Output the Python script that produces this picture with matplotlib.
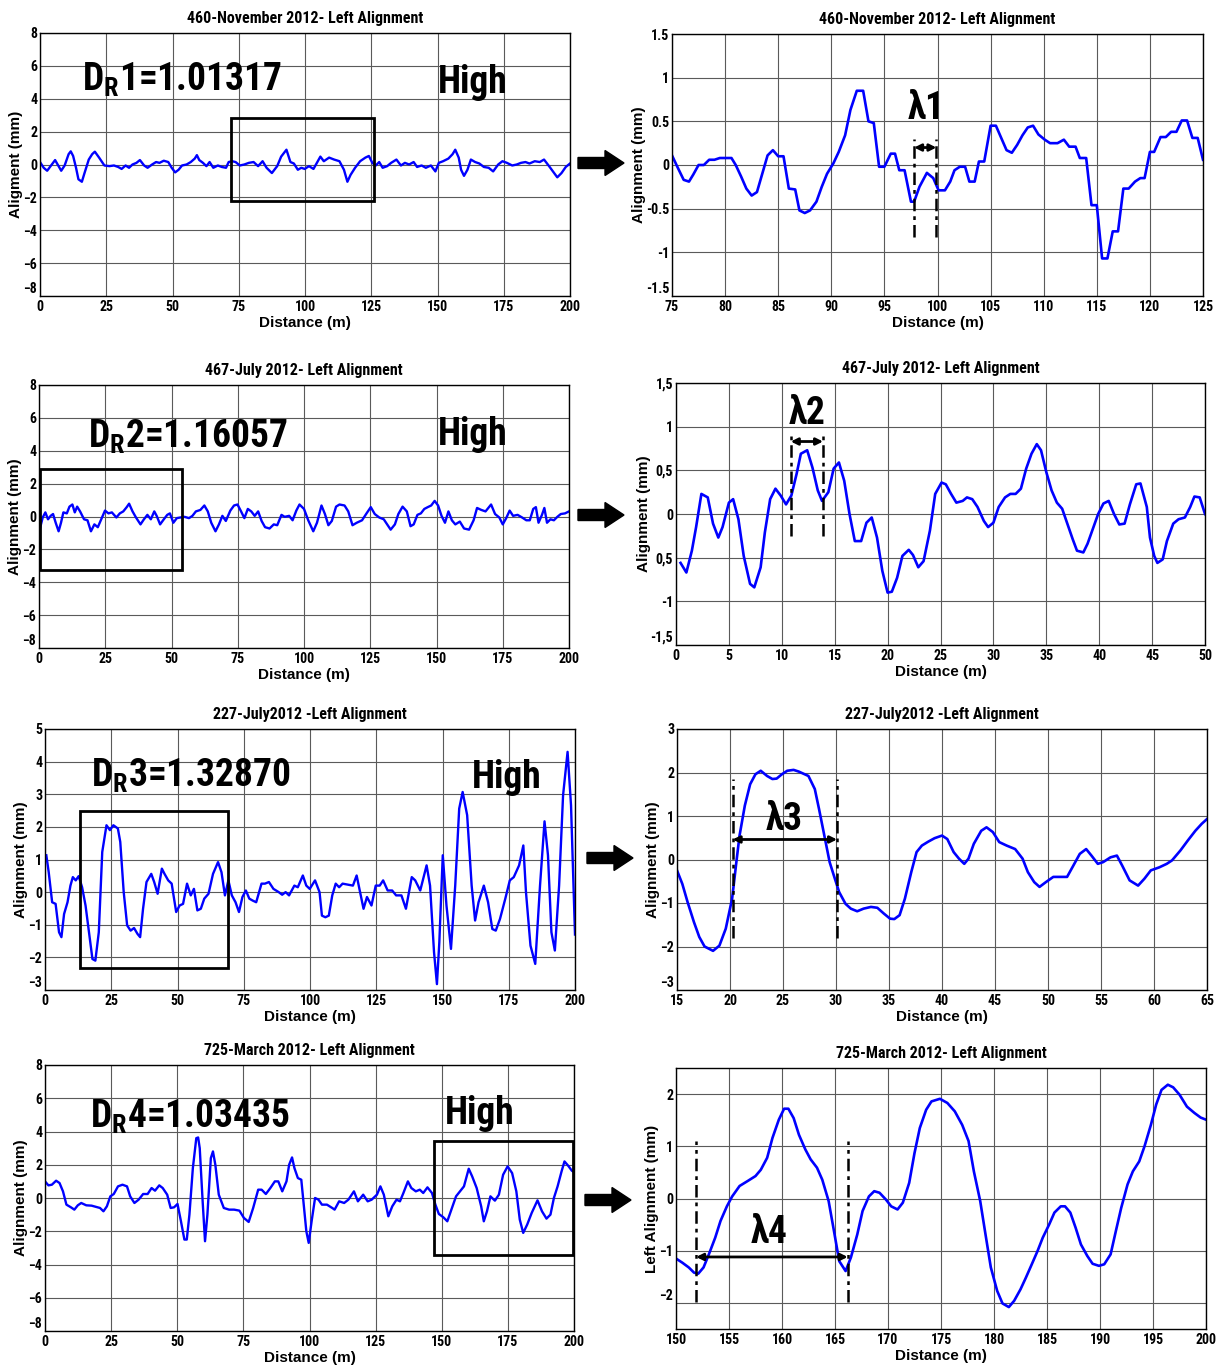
import matplotlib
matplotlib.use('Agg')
import matplotlib.pyplot as plt
from matplotlib import font_manager
from matplotlib.patches import Rectangle, FancyArrow

# fonts: a condensed face if one is installed, otherwise Liberation Sans
names = {f.name for f in font_manager.fontManager.ttflist}
narrow = 'Liberation Sans'
for cand in ['Liberation Sans Narrow', 'Roboto Condensed', 'Open Sans Condensed', 'Noto Sans Condensed']:
    if cand in names:
        narrow = cand
        break
condensed = narrow != 'Liberation Sans'
plt.rcParams['font.family'] = [narrow, 'DejaVu Sans']
plt.rcParams['mathtext.fontset'] = 'custom'
plt.rcParams['mathtext.rm'] = narrow + ':bold'
plt.rcParams['mathtext.bf'] = narrow + ':bold'

##########################################################################
### data: (distance m, alignment mm)
##########################################################################

left_460 = [(0, 0.15), (1.4, -0.2), (2.7, -0.38), (4, -0.1), (5.7, 0.27), (7, -0.1), (8, -0.38),
    (9.3, -0.06), (10.8, 0.63), (11.6, 0.8), (12.5, 0.52), (13.6, -0.2), (14.5, -0.9), (15.8, -1.05),
    (16.8, -0.52), (18.4, 0.3), (19.7, 0.63), (20.7, 0.78), (22.3, 0.42), (24.3, -0.06), (26.2, -0.1),
    (27.9, -0.06), (29.5, -0.15), (30.8, -0.27), (32.3, -0.06), (33.6, -0.2), (34.9, 0), (36.4, 0.1),
    (37.7, 0.27), (39.3, -0.06), (40.6, -0.2), (42.3, 0), (43.8, 0.15), (45.1, 0.1), (46.7, 0.23),
    (48.4, 0.15), (49.7, -0.2), (51, -0.48), (52.3, -0.32), (53.6, -0.06), (55.3, 0), (56.9, 0.15),
    (58.4, 0.36), (59.2, 0.57), (60.1, 0.27), (61.5, 0.1), (62.8, -0.1), (64, 0.15), (65.4, -0.2),
    (67.1, -0.06), (68.6, -0.15), (70.2, -0.2), (71.2, 0.15), (72.5, 0.2), (73.8, 0.15), (75.4, -0.06),
    (77.1, 0), (78.8, 0.1), (80.6, 0.15), (82.3, -0.1), (84, 0.2), (85.5, -0.2), (87.5, -0.52),
    (89.5, -0.1), (91, 0.48), (93, 0.9), (94.5, 0.15), (95.8, 0.06), (97.3, -0.32), (98.6, -0.2),
    (99.9, -0.27), (101.5, -0.1), (103.2, -0.27), (104.5, 0.1), (105.8, 0.48), (107.1, 0.2),
    (109.1, 0.42), (111, 0.3), (113, 0.2), (114.7, -0.32), (116, -1.05), (117.2, -0.63), (118.9, -0.2),
    (120.8, 0.2), (122.8, 0.42), (124.1, 0.52), (125.4, 0.1), (126.7, -0.06), (128, 0.15), (129.3, -0.2),
    (131, -0.1), (132.5, 0.1), (134.5, 0.3), (136.2, -0.06), (137.7, 0.1), (139.3, 0), (141, 0.15),
    (142.3, -0.15), (144, -0.06), (145.6, -0.2), (147.5, -0.06), (149.2, -0.42), (150.5, 0.1),
    (152.1, 0.2), (154.1, 0.36), (155.7, 0.63), (156.7, 0.9), (158, 0.42), (158.9, -0.32), (160, -0.69),
    (161.3, -0.32), (162.6, 0.3), (164.2, 0.15), (165.8, 0.06), (167.5, -0.15), (169.3, -0.2),
    (171, -0.42), (172.9, 0), (174.5, 0.2), (176.2, 0.1), (178.2, -0.06), (179.9, 0), (181.5, 0.1),
    (183.2, 0.15), (184.7, 0.06), (186.7, 0.2), (188.6, 0.15), (190.2, 0.3), (192.1, -0.1),
    (194, -0.52), (195.2, -0.78), (196.8, -0.52), (198.4, -0.15), (200, 0.06)]

zoom_460 = [(75, 0.11), (75.5, -0.02), (76.1, -0.17), (76.6, -0.19), (77, -0.11), (77.5, 0), (78, 0),
    (78.5, 0.06), (79, 0.06), (79.5, 0.08), (80.6, 0.08), (81, 0), (81.5, -0.13), (82, -0.27),
    (82.5, -0.35), (83, -0.31), (83.5, -0.1), (84, 0.11), (84.5, 0.17), (85, 0.1), (85.5, 0.1),
    (86, -0.27), (86.6, -0.28), (87, -0.52), (87.5, -0.55), (88, -0.52), (88.6, -0.42), (89.1, -0.25),
    (89.6, -0.1), (90.2, 0.02), (90.7, 0.15), (91.3, 0.34), (91.8, 0.63), (92.4, 0.85), (93, 0.85),
    (93.5, 0.5), (94, 0.48), (94.5, -0.02), (95, -0.02), (95.6, 0.13), (96, 0.13), (96.4, -0.06),
    (96.9, -0.06), (97.5, -0.42), (97.8, -0.42), (98.3, -0.25), (99, -0.09), (99.6, -0.15),
    (100.1, -0.29), (100.7, -0.29), (101.2, -0.19), (101.6, -0.06), (102.1, -0.02), (102.6, -0.02),
    (103, -0.19), (103.5, -0.19), (103.9, 0.04), (104.4, 0.04), (105, 0.45), (105.5, 0.45),
    (106, 0.31), (106.5, 0.17), (107, 0.14), (107.5, 0.23), (108, 0.34), (108.5, 0.43), (109, 0.45),
    (109.5, 0.35), (110.1, 0.29), (110.6, 0.25), (111.3, 0.25), (111.9, 0.29), (112.4, 0.21),
    (113, 0.21), (113.4, 0.08), (114, 0.08), (114.5, -0.46), (115, -0.46), (115.5, -1.07),
    (116, -1.07), (116.5, -0.76), (117, -0.76), (117.5, -0.27), (118, -0.27), (118.6, -0.19),
    (119.1, -0.15), (119.5, -0.15), (120, 0.15), (120.4, 0.15), (121, 0.32), (121.5, 0.32),
    (122, 0.38), (122.5, 0.38), (123, 0.51), (123.5, 0.51), (124, 0.31), (124.5, 0.31), (125, 0.06)]

left_467 = [(0.4, -0.7), (1.4, -0.06), (2.4, 0.25), (3.4, -0.17), (4.4, 0.04), (5.3, 0.15), (6.3, -0.38),
    (7.4, -0.9), (8.3, -0.38), (9.2, 0.25), (10.5, 0.19), (11.5, 0.6), (12.6, 0.73), (13.5, 0.25),
    (14.4, 0.6), (15.5, 0.31), (17, -0.17), (18.3, -0.23), (19.6, -0.9), (20.9, -0.48), (22.2, -0.65),
    (23.5, -0.17), (24.9, 0.36), (26.2, 0.19), (27.5, 0.25), (29.2, -0.06), (30.5, 0.19), (31.8, 0.31),
    (33.1, 0.57), (34, 0.78), (35.3, 0.31), (36.6, -0.06), (38.3, -0.48), (39.6, -0.17), (40.9, 0.1),
    (42.2, -0.17), (43.5, 0.31), (44.4, 0.04), (45.7, -0.48), (47.1, -0.17), (48.4, 0.1), (49.4, 0.19),
    (50.7, -0.38), (52, -0.1), (53.3, -0.06), (54.9, -0.02), (56.6, -0.1), (57.9, 0.04), (59.2, 0.31),
    (60.9, 0.4), (62.4, 0.67), (63.7, 0.31), (65, -0.38), (66.6, -0.9), (67.9, -0.48), (69.2, 0.04),
    (70.5, -0.27), (72.2, 0.36), (73.6, 0.67), (74.9, 0.73), (76.1, 0.36), (77.5, -0.1), (78.8, 0.46),
    (80.1, 0.31), (81.4, 0.04), (82.7, 0.31), (84, -0.27), (85.3, -0.65), (87, -0.73), (88.6, -0.48),
    (89.9, -0.53), (91.5, 0.1), (92.7, -0.02), (94.4, 0.04), (95.7, -0.23), (97.1, 0.36), (98.3, 0.73),
    (100, 0.46), (101.6, -0.23), (103.5, -0.9), (104.9, -0.38), (106.6, 0.67), (107.9, 0.15),
    (109.2, -0.53), (110.5, -0.27), (112.1, 0.6), (113.4, 0.73), (115.3, 0.67), (116.7, 0.31),
    (118.3, -0.53), (119.9, -0.38), (121.9, -0.23), (123.6, 0.19), (125.2, 0.57), (126.7, 0.15),
    (128.4, -0.06), (130.1, -0.17), (131.4, -0.48), (132.7, -0.8), (134.3, -0.48), (135.6, 0.15),
    (137.2, 0.6), (138.8, 0.31), (140.2, -0.59), (141.4, -0.48), (142.8, 0.1), (144.1, 0.19),
    (145.4, 0.46), (146.7, 0.57), (148, 0.67), (149.3, 0.95), (150.6, 0.67), (151.9, 0.04),
    (153.2, -0.38), (154.5, 0.31), (155.8, -0.23), (157.1, -0.48), (158.8, -0.31), (160.4, -0.73),
    (162.3, -0.8), (164, -0.23), (165.3, 0.52), (166.9, 0.4), (168.5, 0.31), (170.6, 0.73),
    (172.1, 0.15), (173.7, -0.06), (175, -0.48), (176.3, -0.1), (177.6, 0.36), (178.9, 0.04),
    (180.6, 0.1), (182.3, -0.06), (183.9, -0.23), (185.2, -0.23), (186.5, 0.46), (187.5, 0.57),
    (188.5, -0.38), (189.8, 0.1), (190.7, 0.52), (191.7, -0.38), (193, -0.17), (194.3, -0.23),
    (195.6, -0.02), (196.9, 0.15), (198.5, 0.19), (200, 0.31)]

zoom_467 = [(0.43, -0.56), (0.98, -0.67), (1.5, -0.42), (1.9, -0.15), (2.4, 0.23), (3, 0.19), (3.5, -0.11),
    (4, -0.27), (4.4, -0.15), (5, 0.13), (5.4, 0.17), (5.9, -0.06), (6.4, -0.48), (7, -0.8), (7.4, -0.84),
    (8, -0.61), (8.4, -0.21), (8.9, 0.17), (9.4, 0.29), (9.9, 0.21), (10.4, 0.11), (10.9, 0.21),
    (11.4, 0.46), (11.8, 0.69), (12.4, 0.73), (12.9, 0.53), (13.4, 0.27), (13.8, 0.15), (14.4, 0.25),
    (14.9, 0.52), (15.4, 0.59), (15.9, 0.38), (16.4, 0), (16.9, -0.31), (17.5, -0.31), (18, -0.1),
    (18.5, -0.04), (19, -0.27), (19.5, -0.65), (20, -0.9), (20.4, -0.89), (20.9, -0.73), (21.4, -0.48),
    (22, -0.41), (22.4, -0.47), (22.9, -0.61), (23.4, -0.54), (24, -0.19), (24.5, 0.23), (25.1, 0.36),
    (25.5, 0.34), (26, 0.23), (26.5, 0.13), (27.1, 0.15), (27.5, 0.19), (28, 0.17), (28.5, 0.08),
    (29.1, -0.08), (29.5, -0.15), (30, -0.1), (30.5, 0.08), (31.1, 0.19), (31.6, 0.23), (32.1, 0.23),
    (32.6, 0.29), (33.1, 0.52), (33.6, 0.69), (34.1, 0.8), (34.5, 0.73), (35, 0.48), (35.5, 0.27),
    (36, 0.13), (36.5, 0.06), (36.9, -0.08), (37.5, -0.29), (37.9, -0.42), (38.5, -0.44), (38.9, -0.34),
    (39.4, -0.17), (39.9, 0), (40.4, 0.12), (40.9, 0.15), (41.4, 0), (41.9, -0.12), (42.4, -0.11),
    (42.9, 0.11), (43.5, 0.34), (43.9, 0.35), (44.5, 0.08), (44.8, -0.27), (45.2, -0.48), (45.5, -0.56),
    (46, -0.52), (46.4, -0.31), (47, -0.11), (47.5, -0.06), (48.1, -0.04), (48.6, 0.08), (49, 0.2),
    (49.5, 0.19), (50, 0)]

left_227 = [(0.5, 1.13), (1.4, 0.61), (2.7, -0.31), (4, -0.36), (5.3, -1.23), (6.2, -1.38), (7.2, -0.67),
    (8.5, -0.31), (9.6, 0.2), (10.5, 0.46), (11.6, 0.36), (12.7, 0.49), (14, 0.15), (15.3, -0.41),
    (16.6, -1.23), (17.9, -2.05), (19, -2.1), (20.3, -1.23), (21.6, 1.23), (23.2, 2.05), (24.5, 1.9),
    (25.8, 2.05), (27.5, 1.95), (28.4, 1.54), (29.7, 0), (31, -1.02), (32.3, -1.18), (33.6, -1.1),
    (34.9, -1.28), (35.9, -1.38), (37, -0.51), (38.3, 0.31), (40.1, 0.56), (41.2, 0.31), (42.5, -0.05),
    (44.1, 0.72), (45.1, 0.56), (46.5, 0.36), (47.8, 0.26), (49.5, -0.61), (50.8, -0.41), (52.1, -0.36),
    (53.6, 0.26), (55, -0.1), (56.2, 0.1), (57.5, -0.56), (58.8, -0.51), (60.1, -0.2), (61.7, -0.05),
    (63.4, 0.56), (65.3, 0.92), (66.6, 0.61), (67.9, -0.1), (69.2, 0.36), (70.5, -0.1), (71.9, -0.31),
    (73.2, -0.61), (74.5, -0.15), (75.8, 0.05), (77.1, -0.2), (78.4, -0.26), (79.7, -0.31), (81.7, 0.26),
    (83, 0.26), (84.5, 0.31), (86.2, 0.1), (88.2, 0), (89.5, -0.08), (90.8, 0), (92.1, -0.1), (94.1, 0.2),
    (95.4, 0.15), (97.3, 0.51), (98.6, 0.2), (99.9, 0.1), (101.9, 0.36), (103.6, 0), (104.5, -0.72),
    (105.8, -0.77), (107.1, -0.72), (108.4, -0.1), (109.7, 0.26), (111, 0.15), (112.3, 0.26),
    (114.3, 0.23), (116.2, 0.2), (117.6, 0.51), (118.9, 0), (120.2, -0.51), (121.5, -0.15),
    (123.2, -0.41), (124.8, 0.2), (126.3, 0.2), (127.6, 0.36), (129.3, 0.05), (131, 0.05),
    (132.5, -0.1), (134.5, -0.1), (136.2, -0.51), (138.4, 0.46), (139.7, 0.36), (141.6, 0.05),
    (144, 0.82), (145.3, 0.2), (146.8, -1.84), (147.9, -2.82), (148.8, -1.54), (150.1, 1.13),
    (151.5, -0.41), (153.2, -1.74), (154.8, 0.2), (156.3, 2.56), (157.6, 3.07), (159.3, 2.36),
    (161, 0.2), (162.3, -0.87), (163.6, -0.31), (165.6, 0.2), (167.2, -0.31), (168.8, -1.13),
    (170.1, -1.18), (171.7, -0.82), (173.7, -0.2), (175.4, 0.36), (176.9, 0.46), (178.9, 0.82),
    (180.5, 1.43), (181.5, 0), (183.2, -1.64), (185, -2.2), (186.8, 0.2), (188.5, 2.17), (189.8, 1.13),
    (191.1, -1.23), (192.4, -1.79), (194, 0.2), (195.5, 2.97), (197.2, 4.3), (198.5, 2.66), (200, -1.3)]

zoom_227 = [(15, -0.25), (15.5, -0.56), (16, -0.98), (16.6, -1.44), (17.1, -1.78), (17.6, -2.0),
    (18.4, -2.1), (19, -1.98), (19.6, -1.59), (20.2, -0.9), (20.6, -0.06), (20.9, 0.55), (21.4, 1.24),
    (21.9, 1.73), (22.4, 1.96), (22.9, 2.04), (23.5, 1.92), (24, 1.85), (24.4, 1.86), (24.9, 1.96),
    (25.4, 2.04), (26, 2.06), (26.5, 2.02), (27.4, 1.92), (28, 1.62), (28.4, 1.16), (28.9, 0.55),
    (29.4, -0.06), (29.8, -0.37), (30.3, -0.75), (30.9, -1.02), (31.4, -1.13), (32, -1.19),
    (32.6, -1.13), (33.3, -1.09), (33.9, -1.11), (34.5, -1.24), (35.1, -1.36), (35.5, -1.37),
    (36, -1.28), (36.5, -0.9), (37.1, -0.29), (37.6, 0.17), (38.1, 0.32), (38.7, 0.41), (39.3, 0.49),
    (40, 0.55), (40.5, 0.47), (41.1, 0.17), (41.6, 0.02), (42.1, -0.1), (42.5, 0.02), (43, 0.36),
    (43.7, 0.66), (44.2, 0.74), (44.8, 0.63), (45.4, 0.4), (46.1, 0.32), (46.9, 0.24), (47.6, 0.02),
    (48.1, -0.29), (48.7, -0.52), (49.2, -0.63), (49.8, -0.52), (50.5, -0.4), (51.1, -0.4),
    (51.8, -0.4), (52.3, -0.18), (53, 0.13), (53.6, 0.24), (54.1, 0.09), (54.7, -0.1), (55.2, -0.06),
    (55.9, 0.05), (56.5, 0.09), (57, -0.14), (57.7, -0.48), (58.5, -0.6), (59.1, -0.44), (59.7, -0.25),
    (60.5, -0.18), (61.2, -0.1), (61.7, -0.02), (62.5, 0.21), (63.2, 0.44), (63.9, 0.66), (64.5, 0.82),
    (65, 0.93)]

left_725 = [(0, 1.0), (1.3, 0.76), (2.6, 0.8), (4.2, 1.04), (5.5, 0.9), (6.8, 0.4), (8.1, -0.4),
    (9.8, -0.56), (11.1, -0.7), (12.4, -0.44), (13.7, -0.3), (15.6, -0.44), (17.6, -0.46), (19.5, -0.54),
    (20.8, -0.6), (22.1, -0.8), (23.4, -0.5), (24.7, 0.1), (26, 0.24), (27.6, 0.7), (29.3, 0.8),
    (31, 0.7), (32.2, 0.1), (33.8, -0.3), (35.4, -0.1), (37.1, 0.24), (38.8, 0.24), (40.3, 0.6),
    (41.6, 0.44), (43.2, 0.76), (44.5, 0.6), (46.2, 0.2), (47.5, -0.6), (48.8, -0.56), (50.1, -0.36),
    (51.4, -1.4), (52.7, -2.5), (53.6, -2.5), (54.6, -1.0), (55.9, 1.8), (57.2, 3.6), (57.9, 3.64),
    (58.5, 3.0), (59.6, -0.2), (60.5, -2.6), (61.4, -1.0), (62.7, 2.4), (63.5, 2.8), (64.4, 2.0),
    (65.7, 0.2), (67.6, -0.6), (69.6, -0.7), (71.5, -0.7), (73.5, -0.76), (75.2, -1.2), (77, -1.44),
    (78.7, -0.6), (80.6, 0.5), (81.9, 0.5), (83.5, 0.24), (85.2, 0.6), (86.9, 1.0), (88.2, 1.0),
    (89.7, 0.4), (91.3, 1.0), (92.3, 2.0), (93.4, 2.44), (94.3, 1.8), (95.6, 1.2), (96.9, 1.1),
    (97.8, -0.4), (98.8, -2.0), (99.7, -2.7), (100.8, -1.4), (102.1, 0), (103.4, -0.1), (104.7, -0.4),
    (106.6, -0.4), (108.6, -0.6), (109.5, -0.7), (111.2, -0.2), (113.1, -0.3), (114.7, -0.1),
    (116.8, 0.4), (118.3, -0.2), (120.3, 0.2), (122, -0.2), (123.5, -0.1), (125.5, 0.2), (126.8, 0.7),
    (128.1, 0.2), (129.8, -1.1), (131.3, -0.5), (132.9, -0.1), (134.2, -0.2), (135.5, 0.3),
    (137.2, 1.0), (138.5, 0.6), (140.2, 0.4), (141.7, 0.5), (143, 0.3), (144.6, 0.64), (146.3, 0.3),
    (147.6, -0.4), (148.9, -0.96), (150.6, -1.16), (152.1, -1.4), (154.1, -0.5), (155.4, 0.1),
    (157.1, 0.44), (158.4, 0.7), (160.2, 1.76), (161.5, 1.3), (163.2, 0.6), (164.9, -0.5),
    (165.9, -1.4), (167.1, -0.8), (168.4, 0.1), (170.1, -0.16), (171.6, 0.2), (173.2, 1.4),
    (174.9, 1.9), (176.6, 1.5), (178.2, 0.4), (179.5, -1.3), (180.8, -2.1), (182.3, -1.6), (184, -0.9),
    (186.2, -0.14), (187.9, -0.8), (189.6, -1.24), (191.1, -1.0), (192.4, 0), (193.8, 0.7),
    (195.3, 1.6), (196.4, 2.2), (197.7, 1.96), (199.2, 1.64), (200, 1.56)]

zoom_725 = [(150, -1.15), (150.6, -1.23), (151.2, -1.32), (151.7, -1.42), (152.1, -1.44), (152.6, -1.32),
    (153.1, -1.07), (153.7, -0.75), (154.2, -0.43), (154.8, -0.15), (155.3, 0.04), (156, 0.24),
    (156.8, 0.34), (157.5, 0.43), (158, 0.55), (158.6, 0.78), (159.1, 1.16), (159.7, 1.51),
    (160.2, 1.72), (160.6, 1.72), (161.1, 1.54), (161.6, 1.22), (162.2, 0.94), (162.7, 0.75),
    (163.3, 0.59), (163.8, 0.36), (164.4, -0.05), (164.9, -0.62), (165.4, -1.2), (166, -1.39),
    (166.5, -1.13), (167.1, -0.69), (167.6, -0.24), (168.2, 0.04), (168.7, 0.14), (169.2, 0.11),
    (169.8, -0.02), (170.3, -0.15), (170.9, -0.21), (171.4, -0.08), (172, 0.3), (172.5, 0.87),
    (173, 1.35), (173.6, 1.7), (174.1, 1.86), (174.9, 1.91), (175.6, 1.83), (176.3, 1.67), (177, 1.41),
    (177.6, 1.1), (178.1, 0.52), (178.7, -0.05), (179.2, -0.69), (179.7, -1.32), (180.3, -1.77),
    (180.8, -2.01), (181.4, -2.08), (181.9, -1.96), (182.5, -1.74), (183, -1.52), (183.5, -1.29),
    (184.1, -1.01), (184.6, -0.75), (185.2, -0.5), (185.7, -0.27), (186.3, -0.15), (186.7, -0.15),
    (187.2, -0.27), (187.7, -0.56), (188.2, -0.88), (188.8, -1.1), (189.3, -1.25), (189.9, -1.29),
    (190.4, -1.26), (191, -1.07), (191.5, -0.62), (192, -0.18), (192.6, 0.27), (193.1, 0.52),
    (193.7, 0.71), (194.2, 1.0), (194.8, 1.41), (195.3, 1.8), (195.8, 2.08), (196.4, 2.18),
    (196.9, 2.13), (197.5, 1.99), (198.2, 1.76), (198.9, 1.64), (199.5, 1.55), (200, 1.51)]

titles = ['460-November 2012- Left Alignment', '467-July 2012- Left Alignment',
          '227-July2012 -Left Alignment', '725-March 2012- Left Alignment']
dr_labels = [r'$\mathbf{D_{R}}$1=1.01317', r'$\mathbf{D_{R}}$2=1.16057',
             r'$\mathbf{D_{R}}$3=1.32870', r'$\mathbf{D_{R}}$4=1.03435']
left_ylabels = ['Aligment (mm)', 'Alignment (mm)', 'Alignment (mm)', 'Alignment (mm)']
right_ylabels = ['Alignment (mm)', 'Alignment (mm)', 'Alignment (mm)', 'Left Alignment (mm)']
lambda_labels = ['λ1', 'λ2', 'λ3', 'λ4']
# selected window (x0, x1, y0, y1) drawn on the overview plots
windows = [(72, 126, -2.2, 2.83), (0.4, 54, -3.26, 2.9), (13.2, 69, -2.33, 2.48), (147, 199.6, -3.4, 3.45)]
# wavelength markers (x start, x end, arrow y, line bottom, line top)
wavelengths = [(97.8, 99.9, 0.2, -0.83, 0.3), (10.85, 13.9, 0.83, -0.25, 0.9),
               (20.25, 30.1, 0.46, -1.8, 1.85), (151.9, 166.2, -1.12, -1.98, 1.1)]

##########################################################################
### layout
##########################################################################

W, H = 1221, 1366
fig = plt.figure(figsize=(W / 100, H / 100), dpi=100)

def box(x0, x1, y0, y1):
    return [x0 / W, 1 - y1 / H, (x1 - x0) / W, (y1 - y0) / H]

left_pos = [box(40, 570, 33, 296), box(39, 569, 385, 648), box(45, 575, 729, 990), box(45, 574, 1065, 1331)]
right_pos = [box(672, 1203, 34, 296), box(676, 1205, 383, 645), box(677, 1207, 729, 990), box(676, 1206, 1068, 1329)]

big_size = 27 if condensed else 22.5
tick_font = dict(family=[narrow, 'DejaVu Sans'], weight='bold', size=10 if condensed else 9.5)
label_font = dict(family=['Liberation Sans', 'DejaVu Sans'], weight='bold', size=11)
big_font = dict(family=[narrow, 'DejaVu Sans'], weight='bold', size=big_size)


def style(ax, title, ylabel):
    ax.grid(True, color='#5a5a5a', lw=0.8)
    ax.set_axisbelow(True)
    for s in ax.spines.values():
        s.set_color('black')
        s.set_linewidth(1.0)
    ax.tick_params(length=0, pad=2)
    ax.tick_params(axis='x', pad=3)
    for lab in ax.get_xticklabels() + ax.get_yticklabels():
        lab.set_fontproperties(tick_font)
    # lowest y label sits on the corner, lifted like the MATLAB export
    ax.get_yticklabels()[0].set_verticalalignment('bottom')
    ax.set_title(title, family=[narrow, 'DejaVu Sans'], weight='bold', size=11.5, pad=7)
    ax.set_xlabel('Distance (m)', labelpad=1, **label_font)
    ax.set_ylabel(ylabel, labelpad=0, **label_font)


left_data = [left_460, left_467, left_227, left_725]
right_data = [zoom_460, zoom_467, zoom_227, zoom_725]
left_ylims = [(-8, 8), (-8, 8), (-3, 5), (-8, 8)]
left_yticks = [range(-8, 9, 2), range(-8, 9, 2), range(-3, 6), range(-8, 9, 2)]
right_xlims = [(75, 125), (0, 50), (15, 65), (150, 200)]
right_ylims = [(-1.5, 1.5), (-1.5, 1.5), (-3, 3), (-2.5, 2.5)]
right_yticks = [[-1.5, -1, -0.5, 0, 0.5, 1, 1.5], [-1.5, -1, -0.5, 0, 0.5, 1, 1.5], range(-3, 4), range(-2, 3)]
right_yticklabels = [['-1.5', '-1', '-0.5', '0', '0.5', '1', '1.5'],
                     ['-1,5', '-1', '0,5', '0', '0,5', '1', '1,5'], None, None]
dr_pos = [(16, 5.15), (18.5, 4.85), (17.5, 3.55), (17, 4.9)]
high_pos = [(150, 5.0), (150.5, 5.0), (161, 3.5), (151, 5.1)]
lam_text_pos = [(98.9, 0.65), (12.4, 1.15), (25.1, 0.93), (158.8, -0.66)]
arrow_rows = [(5.78, 12.03), (5.78, 8.51), (5.87, 5.08), (5.85, 1.66)]

for i in range(4):
    # overview of the whole 200 m section
    ax = fig.add_axes(left_pos[i])
    xs = [p[0] for p in left_data[i]]
    ys = [p[1] for p in left_data[i]]
    ax.plot(xs, ys, color='#0000ff', lw=1.7)
    ax.set_xlim(0, 200)
    ax.set_ylim(*left_ylims[i])
    ax.set_xticks(range(0, 201, 25))
    ax.set_yticks(list(left_yticks[i]))
    style(ax, titles[i], left_ylabels[i])
    x0, x1, y0, y1 = windows[i]
    ax.add_patch(Rectangle((x0, y0), x1 - x0, y1 - y0, fill=False, ec='black', lw=2, zorder=4))
    ax.text(dr_pos[i][0], dr_pos[i][1], dr_labels[i], va='center', ha='left', zorder=5, **big_font)
    ax.text(high_pos[i][0], high_pos[i][1], 'High', va='center', ha='left', zorder=5, **big_font)

    # zoomed window
    ax = fig.add_axes(right_pos[i])
    xs = [p[0] for p in right_data[i]]
    ys = [p[1] for p in right_data[i]]
    ax.plot(xs, ys, color='#0000ff', lw=1.9)
    ax.set_xlim(*right_xlims[i])
    ax.set_ylim(*right_ylims[i])
    ax.set_xticks(range(right_xlims[i][0], right_xlims[i][1] + 1, 5))
    ax.set_yticks(list(right_yticks[i]))
    if right_yticklabels[i] is not None:
        ax.set_yticklabels(right_yticklabels[i])
    style(ax, titles[i], right_ylabels[i])
    xa, xb, ya, lo, hi = wavelengths[i]
    for xv in (xa, xb):
        ax.plot([xv, xv], [lo, hi], color='black', lw=1.8, ls=(0, (5, 2, 1.5, 2)), zorder=5)
    ax.annotate('', xy=(xb, ya), xytext=(xa, ya),
                arrowprops=dict(arrowstyle='<|-|>', color='black', lw=2, mutation_scale=10,
                                shrinkA=0, shrinkB=0), zorder=5)
    ax.text(lam_text_pos[i][0], lam_text_pos[i][1], lambda_labels[i], ha='center', va='center',
            zorder=5, **big_font)

    # block arrow between the two plots
    ax_x, ax_y = arrow_rows[i]
    fig.add_artist(FancyArrow(ax_x, ax_y, 0.27, 0, width=0.11, head_width=0.25, head_length=0.19,
                              length_includes_head=False, color='black', transform=fig.dpi_scale_trans))

fig.savefig('out.png', dpi=100)
